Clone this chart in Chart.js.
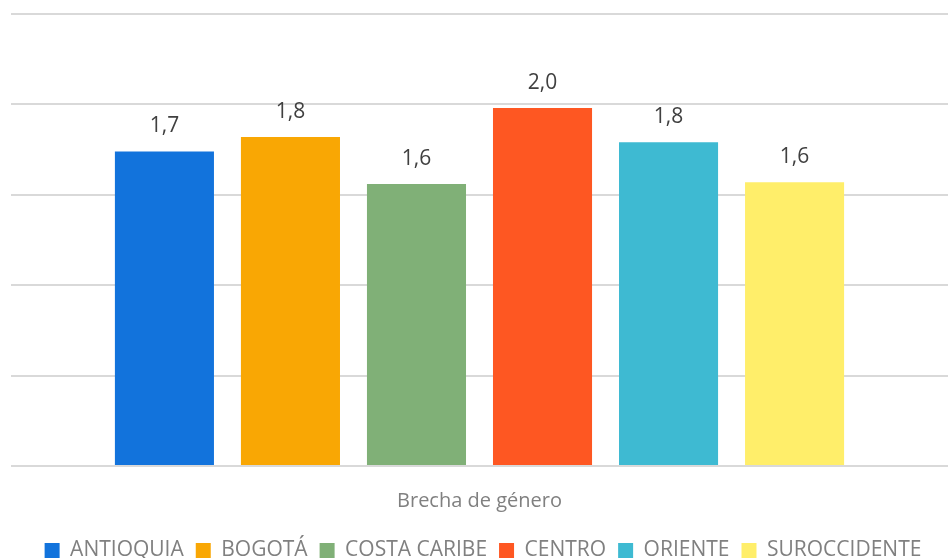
<!DOCTYPE html>
<html>
<head>
<meta charset="utf-8">
<script src="https://cdn.jsdelivr.net/npm/chart.js@4.4.1/dist/chart.umd.min.js"></script>
<style>
  html, body { margin: 0; padding: 0; background: #fff; overflow: hidden; }
  #wrap { position: relative; width: 948px; height: 558px; overflow: hidden; }
  #box { position: absolute; left: 0; top: 0; width: 948px; height: 571px; }
</style>
</head>
<body>
<div id="wrap"><div id="box"><canvas id="myBarChart"></canvas></div></div>
<script>
// Write your JavaScript code.

var categories = ["Brecha de género"];
var regions = ["ANTIOQUIA", "BOGOTÁ", "COSTA CARIBE", "CENTRO", "ORIENTE", "SUROCCIDENTE"];
var brecha = [1.74, 1.82, 1.56, 1.98, 1.79, 1.57];
var colors = ["#1273DC", "#F9A704", "#80B077", "#FE5722", "#3EBAD2", "#FFEE6A"];
var yTicks = [0, 0.5, 1, 1.5, 2, 2.5];

var valueLabels = {
     id: 'valueLabels',
     afterDatasetsDraw: function (chart) {
          var ctx = chart.ctx;
          ctx.save();
          ctx.font = '21px "Open Sans"';
          ctx.fillStyle = '#404040';
          ctx.textAlign = 'center';
          ctx.textBaseline = 'alphabetic';
          chart.data.datasets.forEach(function (ds, i) {
               chart.getDatasetMeta(i).data.forEach(function (bar, j) {
                    var txt = ds.data[j].toFixed(1).replace('.', ',');
                    ctx.fillText(txt, bar.x, bar.y - 19);
               });
          });
          ctx.restore();
     }
};

var ctxB = document.getElementById('myBarChart').getContext('2d');
var myBarChart = new Chart(ctxB, {
     type: 'bar',
     data: {
          labels: categories,
          datasets: regions.map(function (r, i) {
               return {
                    label: r,
                    data: [brecha[i]],
                    backgroundColor: colors[i],
                    borderWidth: 0,
                    categoryPercentage: 0.807,
                    barPercentage: 0.786
               };
          })
     },
     options: {
          responsive: true,
          maintainAspectRatio: false,
          animation: false,
          layout: { padding: { left: 11, right: -7, top: 14, bottom: 0 } },
          scales: {
               y: {
                    min: yTicks[0],
                    max: yTicks[yTicks.length - 1],
                    afterBuildTicks: function (axis) {
                         axis.ticks = yTicks.map(function (v) { return { value: v }; });
                    },
                    ticks: { display: false },
                    border: { display: false },
                    grid: { color: "#d9d9d9", lineWidth: 2, drawTicks: false }
               },
               x: {
                    grid: { display: false },
                    border: { display: false },
                    ticks: {
                         color: "#808080",
                         padding: 15,
                         font: { family: '"Open Sans"', size: 20 }
                    }
               }
          },
          plugins: {
               tooltip: { enabled: false },
               legend: {
                    position: 'bottom',
                    labels: {
                         color: "#808080",
                         boxWidth: 15,
                         boxHeight: 15,
                         padding: 12,
                         font: { family: '"Open Sans"', size: 21 }
                    }
               }
          }
     },
     plugins: [valueLabels]
});
</script>
</body>
</html>
